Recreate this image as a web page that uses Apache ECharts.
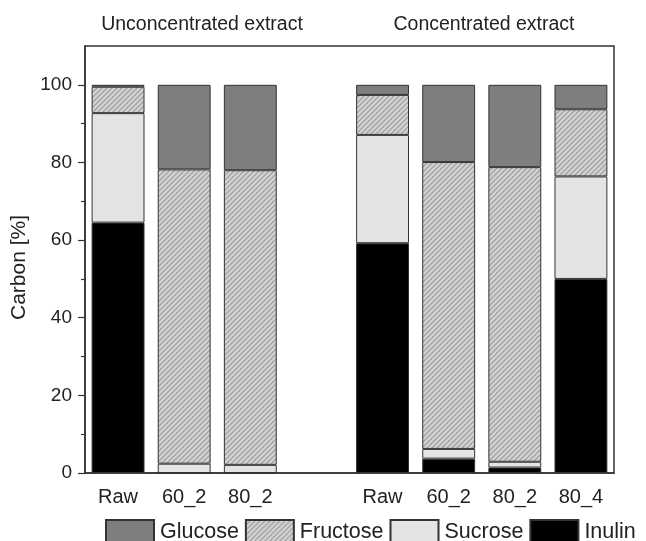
<!DOCTYPE html>
<html>
<head>
<meta charset="utf-8">
<script src="https://cdn.jsdelivr.net/npm/echarts@6/dist/echarts.min.js"></script>
<style>
html,body{margin:0;padding:0;background:#fff;}
#c{width:646px;height:541px;}
</style>
</head>
<body>
<div id="c"></div>
<script>
// ---- data ----
var categories = ['Raw', '60_2', '80_2', '', 'Raw', '60_2', '80_2', '80_4'];
var inulin   = [64.5, 0,    0,    null, 59.2, 3.7,  1.4,  50.0];
var sucrose  = [28.2, 2.4,  2.1,  null, 27.9, 2.5,  1.5,  26.4];
var fructose = [6.8,  75.8, 75.9, null, 10.3, 73.9, 75.9, 17.3];
var glucose  = [0.5,  21.8, 22.0, null, 2.6,  19.9, 21.2, 6.3];
var yMajorTicks = [0, 20, 40, 60, 80, 100];
var yMinorTicks = [10, 30, 50, 70, 90];
var groupTitles = ['Unconcentrated extract', 'Concentrated extract'];
var legendOrder = ['Glucose', 'Fructose', 'Sucrose', 'Inulin'];

// hatch pattern for Fructose
function hatch() {
  var s = 5;
  var cv = document.createElement('canvas');
  cv.width = s; cv.height = s;
  var g = cv.getContext('2d');
  g.fillStyle = '#d2d2d2';
  g.fillRect(0, 0, s, s);
  g.strokeStyle = '#9a9a9a';
  g.lineWidth = 1.1;
  g.beginPath();
  g.moveTo(-1, s + 1); g.lineTo(s + 1, -1);
  g.moveTo(-1, 1); g.lineTo(1, -1);
  g.moveTo(s - 1, s + 1); g.lineTo(s + 1, s - 1);
  g.stroke();
  return cv;
}

var FONT = '"Liberation Sans", Arial, sans-serif';
var chart = echarts.init(document.getElementById('c'), null, {renderer: 'canvas'});

function bar(name, data, color) {
  return {
    name: name, type: 'bar', stack: 'total', data: data,
    barWidth: '80%',
    itemStyle: {color: color, borderColor: '#333', borderWidth: 1},
    emphasis: {disabled: true}
  };
}

var option = {
  animation: false,
  backgroundColor: '#fff',
  grid: {left: 85, right: 32, top: 46, bottom: 68, show: true,
         borderColor: '#333', borderWidth: 1.5, backgroundColor: 'transparent'},
  graphic: [
    {type: 'text', x: 202, y: 25, style: {text: groupTitles[0], align: 'center', verticalAlign: 'middle',
      fontSize: 19.5, fontFamily: FONT, fill: '#222'}},
    {type: 'text', x: 484, y: 25, style: {text: groupTitles[1], align: 'center', verticalAlign: 'middle',
      fontSize: 19.5, fontFamily: FONT, fill: '#222'}}
  ],
  legend: {
    data: legendOrder, left: 105, top: 519, padding: 0,
    itemWidth: 48, itemHeight: 24, itemGap: 6,
    icon: 'rect',
    textStyle: {fontSize: 21.5, fontFamily: FONT, color: '#222', padding: [0, 0, 0, 1]}
  },
  xAxis: [
    {type: 'category', data: categories,
     axisLine: {lineStyle: {color: '#333', width: 1.5}},
     axisTick: {alignWithLabel: true, length: 7, lineStyle: {color: '#333', width: 1.2}},
     axisLabel: {fontSize: 20, fontFamily: FONT, color: '#222', margin: 14, interval: 0},
     splitLine: {show: false}},
    {type: 'category', data: categories, position: 'bottom',
     axisLine: {show: false},
     axisTick: {alignWithLabel: false, length: 4, interval: 0, lineStyle: {color: '#333', width: 1.2}},
     axisLabel: {show: false}, splitLine: {show: false}}
  ],
  yAxis: [
    {type: 'value', min: 0, max: 110, name: 'Carbon [%]', nameLocation: 'middle', nameGap: 46,
     nameTextStyle: {fontSize: 21, fontFamily: FONT, color: '#222', padding: [0, 16, 0, 0]},
     axisLine: {show: true, lineStyle: {color: '#333', width: 1.5}},
     axisTick: {show: true, length: 7, customValues: yMajorTicks, lineStyle: {color: '#333', width: 1.2}},
     axisLabel: {fontSize: 19, fontFamily: FONT, color: '#222', margin: 13, customValues: yMajorTicks},
     splitLine: {show: false}},
    {type: 'value', min: 0, max: 110, position: 'left',
     axisLine: {show: false},
     axisTick: {show: true, length: 4, customValues: yMinorTicks, lineStyle: {color: '#333', width: 1.2}},
     axisLabel: {show: false}, splitLine: {show: false}}
  ],
  series: [
    bar('Inulin', inulin, '#000000'),
    bar('Sucrose', sucrose, '#e4e4e4'),
    bar('Fructose', fructose, {image: hatch(), repeat: 'repeat'}),
    bar('Glucose', glucose, '#7e7e7e')
  ]
};
chart.setOption(option);
</script>
</body>
</html>
